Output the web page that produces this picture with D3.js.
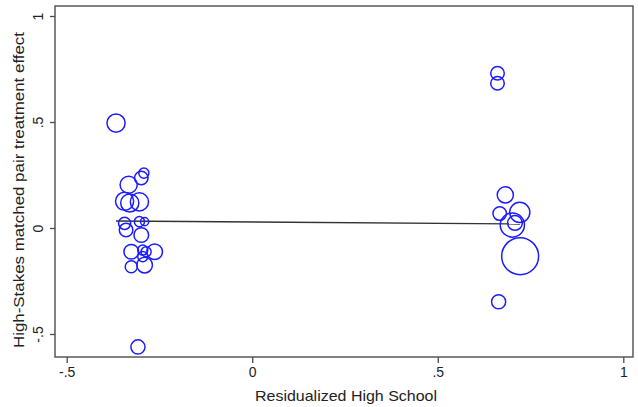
<!DOCTYPE html>
<html>
<head>
<meta charset="utf-8">
<script src="https://cdn.jsdelivr.net/npm/d3@7/dist/d3.min.js"></script>
<style>
  html, body { margin: 0; padding: 0; background: #fff; }
  svg { display: block; font-family: "Liberation Sans", Arial, Helvetica, sans-serif; }
</style>
</head>
<body>
<svg id="chart" width="638" height="407"></svg>
<script>
// Matched pairs: residualized high-school value vs. treatment effect, sized by weight
const pairX = [
  -0.367, -0.308, -0.292, -0.299, -0.333, -0.344, -0.330, -0.304, -0.344, -0.304,
  -0.290, -0.340, -0.299, -0.326, -0.295, -0.286, -0.263, -0.326, -0.290, -0.295,
   0.661,  0.661,  0.682,  0.667,  0.721,  0.701,  0.708,  0.722,  0.664
];
const pairY = [
   0.495, -0.561,  0.259,  0.236,  0.204,  0.126,  0.118,  0.123,  0.022,  0.030,
   0.030, -0.009, -0.033, -0.112, -0.104, -0.112, -0.112, -0.183, -0.175, -0.135,
   0.730,  0.683,  0.156,  0.068,  0.074,  0.014,  0.024, -0.133, -0.348
];
const pairWeight = [
   81, 49, 25, 45, 72, 81, 81, 81, 36, 25,
   16, 45, 53, 53, 25, 25, 60, 36, 60, 25,
   45, 45, 64, 45, 100, 144, 53, 335, 49
];

// Weighted linear fit, endpoints at the extremes of x
const fitX = [-0.367, 0.722];
const fitY = [0.033, 0.019];

// Axis ticks and their labels
const xTicks = [-0.5, 0, 0.5, 1];
const xTickLabels = ["-.5", "0", ".5", "1"];
const yTicks = [-0.5, 0, 0.5, 1];
const yTickLabels = ["-.5", "0", ".5", "1"];

const xTitle = "Residualized High School";
const yTitle = "High-Stakes matched pair treatment effect";

const svg = d3.select("#chart");
const plot = { left: 55, right: 633, top: 6, bottom: 357 };

const x = d3.scaleLinear().domain([-0.5, 1]).range([66.7, 623.3]);
const y = d3.scaleLinear().domain([-0.5, 1]).range([334, 16]);
const r = d3.scaleSqrt().domain([0, 340]).range([0, 18.6]);

const axisColor = "#4d4d4d";

// Bottom axis
const xAxis = svg.append("g")
  .attr("transform", `translate(0,${plot.bottom})`)
  .call(d3.axisBottom(x).tickValues(xTicks)
    .tickFormat((d, i) => xTickLabels[i]).tickSize(6).tickPadding(4));
xAxis.select(".domain").remove();
xAxis.selectAll(".tick line").attr("stroke", axisColor).attr("stroke-width", 1.3);
xAxis.selectAll(".tick text")
  .attr("fill", "#222").attr("font-size", 14)
  .attr("font-family", "Liberation Sans, Arial, sans-serif");

// Left axis, labels turned to read upward
const yAxis = svg.append("g")
  .attr("transform", `translate(${plot.left},0)`)
  .call(d3.axisLeft(y).tickValues(yTicks)
    .tickFormat((d, i) => yTickLabels[i]).tickSize(5));
yAxis.select(".domain").remove();
yAxis.selectAll(".tick line").attr("stroke", axisColor).attr("stroke-width", 1.3);
yAxis.selectAll(".tick text")
  .attr("fill", "#222").attr("font-size", 14)
  .attr("font-family", "Liberation Sans, Arial, sans-serif")
  .attr("text-anchor", "middle")
  .attr("dy", null)
  .attr("x", null)
  .attr("transform", "translate(-12,0) rotate(-90)");

// Plot frame
svg.append("rect")
  .attr("x", plot.left).attr("y", plot.top)
  .attr("width", plot.right - plot.left).attr("height", plot.bottom - plot.top)
  .attr("fill", "none").attr("stroke", axisColor).attr("stroke-width", 1.4);

// Fit line
svg.append("line")
  .attr("x1", x(fitX[0])).attr("y1", y(fitY[0]))
  .attr("x2", x(fitX[1])).attr("y2", y(fitY[1]))
  .attr("stroke", "#333").attr("stroke-width", 1.4);

// Weighted markers
svg.append("g").selectAll("circle")
  .data(d3.range(pairX.length))
  .join("circle")
  .attr("cx", i => x(pairX[i]))
  .attr("cy", i => y(pairY[i]))
  .attr("r", i => r(pairWeight[i]))
  .attr("fill", "none")
  .attr("stroke", "#1c1cff")
  .attr("stroke-width", 1.5);

// Axis titles
svg.append("text")
  .attr("x", (plot.left + plot.right) / 2 + 2).attr("y", 401)
  .attr("text-anchor", "middle")
  .attr("font-size", 15).attr("fill", "#222")
  .attr("textLength", 182).attr("lengthAdjust", "spacingAndGlyphs")
  .text(xTitle);

svg.append("text")
  .attr("transform", "translate(24,190) rotate(-90)")
  .attr("text-anchor", "middle")
  .attr("font-size", 15).attr("fill", "#222")
  .attr("textLength", 316).attr("lengthAdjust", "spacingAndGlyphs")
  .text(yTitle);
</script>
</body>
</html>
